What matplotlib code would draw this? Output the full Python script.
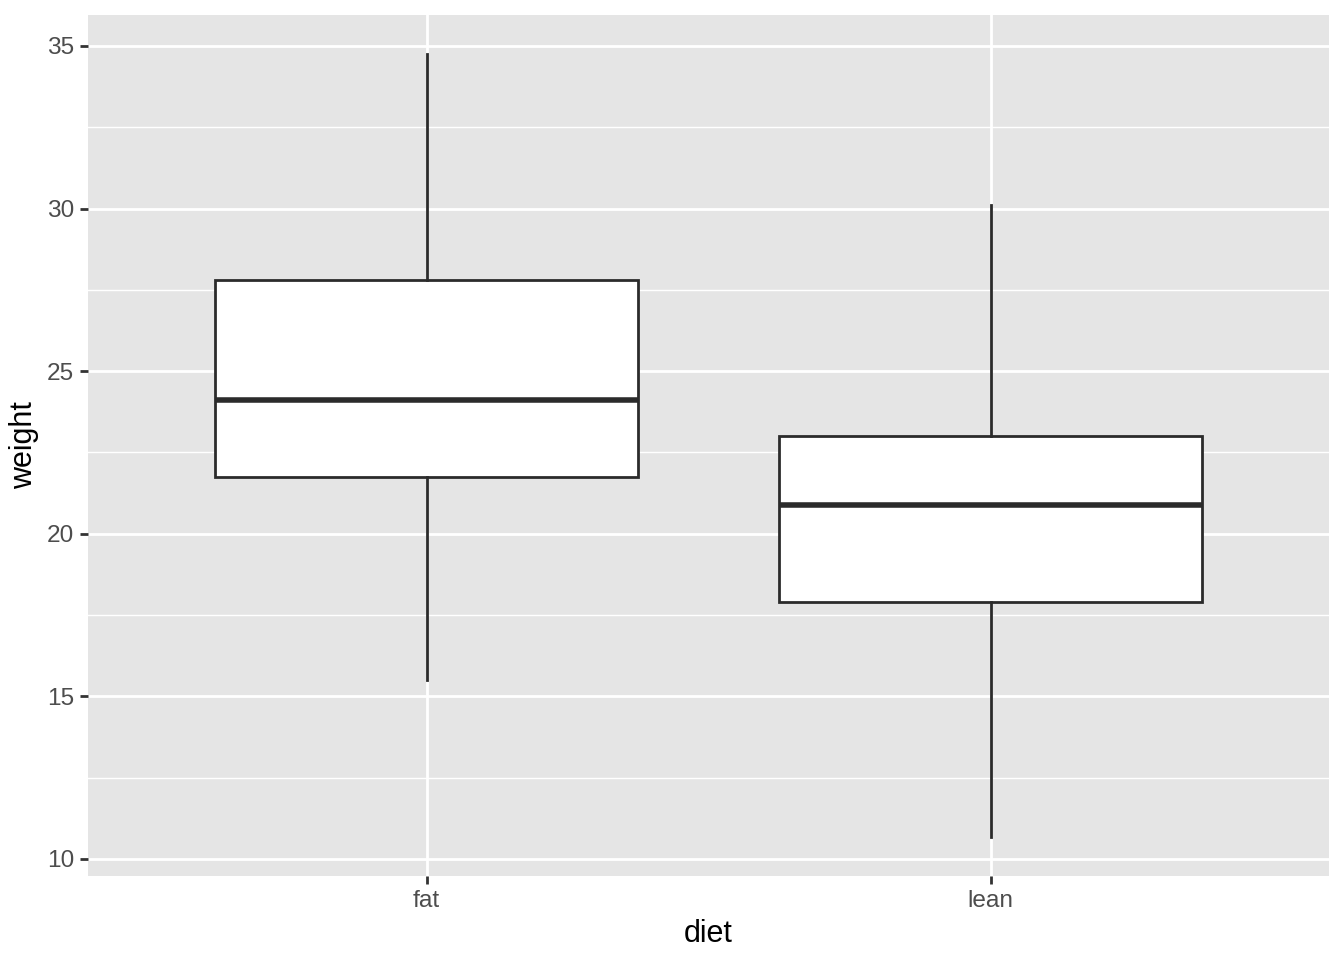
import matplotlib
matplotlib.use("Agg")
import matplotlib.pyplot as plt
from matplotlib.ticker import MultipleLocator

# box stats
diets = ["fat", "lean"]
whisker_lo = [15.49, 10.68]
q1 = [21.75, 17.89]
median = [24.12, 20.88]
q3 = [27.79, 23.01]
whisker_hi = [34.75, 30.10]

plt.rcParams["font.family"] = ["Liberation Sans", "DejaVu Sans"]

fig = plt.figure(figsize=(6.72, 4.8), dpi=200)
ax = fig.add_axes([0.0655, 0.0875, 0.9234, 0.8969])

stats = []
for i in range(len(diets)):
    stats.append({
        "label": diets[i],
        "whislo": whisker_lo[i],
        "q1": q1[i],
        "med": median[i],
        "q3": q3[i],
        "whishi": whisker_hi[i],
        "fliers": [],
    })

edge = "#2B2B2B"
ax.bxp(stats, positions=[1, 2], widths=0.75, patch_artist=True,
       showcaps=False, showfliers=False,
       boxprops=dict(facecolor="white", edgecolor=edge, linewidth=1.0),
       whiskerprops=dict(color=edge, linewidth=1.0),
       medianprops=dict(color=edge, linewidth=2.0, solid_capstyle="butt"),
       zorder=3)

# ggplot-like theme
ax.set_facecolor("#E5E5E5")
for s in ax.spines.values():
    s.set_visible(False)
ax.set_xlim(0.4, 2.6)
lo = min(whisker_lo)
hi = max(whisker_hi)
pad = (hi - lo) * 0.05
ax.set_ylim(lo - pad, hi + pad)
ax.yaxis.set_major_locator(MultipleLocator(5))
ax.yaxis.set_minor_locator(MultipleLocator(2.5))
ax.set_xticks([1, 2])
ax.set_xticklabels(diets)
ax.grid(which="major", color="white", linewidth=1.0, zorder=0)
ax.grid(which="minor", axis="y", color="white", linewidth=0.5, zorder=0)
ax.set_axisbelow(True)
ax.tick_params(which="major", length=2.75, width=1.0, color="#333333",
               labelsize=8.8, labelcolor="#4D4D4D", pad=2.2)
ax.tick_params(which="minor", length=0)

ax.set_xlabel("diet", fontsize=11, color="black", labelpad=2.5)
ax.set_ylabel("weight", fontsize=11, color="black", labelpad=3)

fig.savefig("out.png", dpi=200)
